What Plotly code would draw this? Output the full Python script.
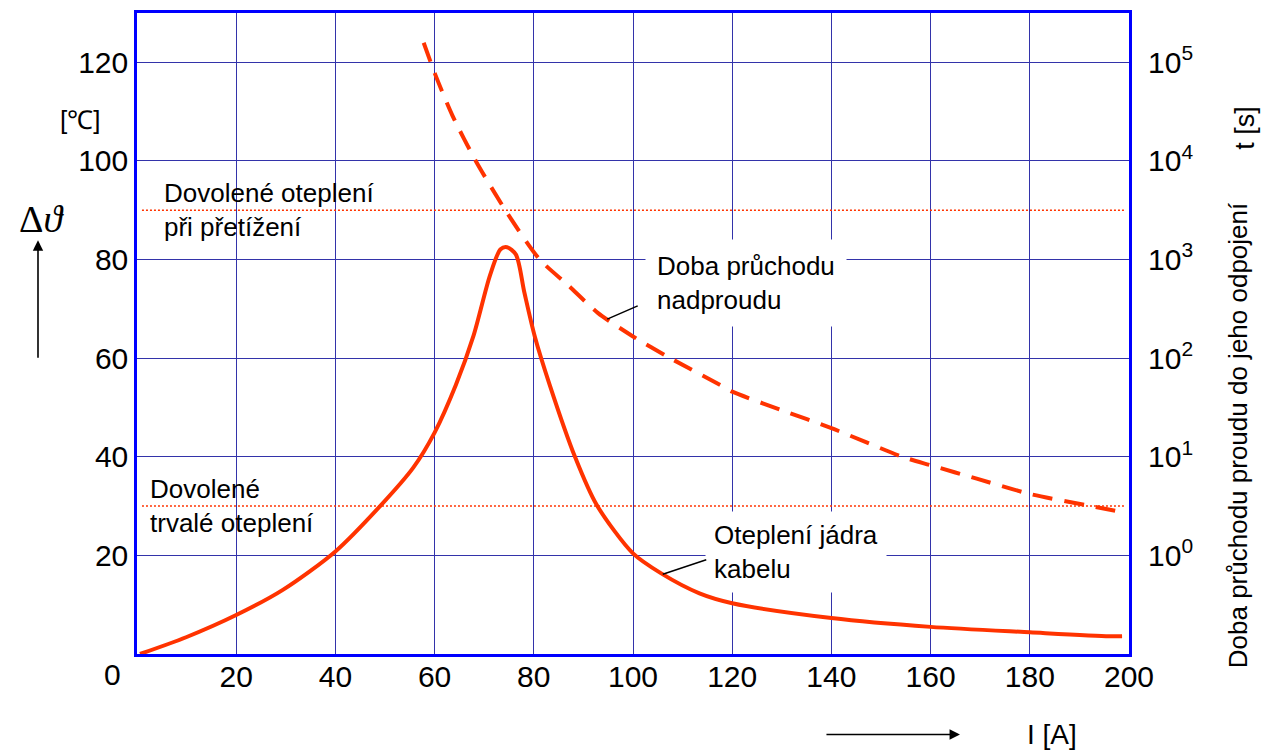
import numpy as np
import plotly.graph_objects as go

# ---- data ----
current_core = [0.6, 9.9, 20, 29.4, 40, 49.2, 55.7, 60, 64.3, 67.8, 71.2, 73.3, 74.6,
                76.4, 78.1, 80.2, 83.2, 88.3, 92.7, 100, 105.6, 113.4, 120, 140, 160,
                180, 196, 198.6]
temp_core = [0, 3.4, 7.9, 13.0, 20.8, 30.2, 37.8, 44.9, 54.6, 64.4, 76.9, 82.1, 82.5,
             81, 73.3, 64.4, 54.6, 40, 30.2, 20.4, 16.4, 12.3, 10.3, 7.3, 5.5,
             4.4, 3.6, 3.6]

current_trip = [57.8, 60.1, 63.6, 68.3, 74.4, 81.2, 86.9, 92.9, 100, 107.2, 117.5, 120,
                129.8, 140, 154.3, 160, 169.3, 180, 192.3, 198.5]
time_trip = [158000, 75900, 28800, 10000, 3090, 1000, 550, 288, 166, 102, 53.7, 45.7,
             29.9, 19.5, 10.0, 8.2, 6.0, 4.2, 3.16, 2.75]

limit_levels = [90, 30]
limit_span = [1, 199]

x_ticks = [20, 40, 60, 80, 100, 120, 140, 160, 180, 200]
y_ticks = [20, 40, 60, 80, 100, 120]
t_ticks = [1, 10, 100, 1000, 10000, 100000]
t_ticklabels = ["10<sup>0</sup>", "10<sup>1</sup>", "10<sup>2</sup>",
                "10<sup>3</sup>", "10<sup>4</sup>", "10<sup>5</sup>"]

RED = "#FF3300"
GRID = "#3333AA"
FRAME = "#0000FF"
FONT = "Arial, Liberation Sans, sans-serif"

fig = go.Figure()

for lv in limit_levels:
    fig.add_trace(go.Scatter(x=limit_span, y=[lv, lv], mode="lines",
                             line=dict(color=RED, width=1.5, dash="2px,2px"),
                             hoverinfo="skip"))

fig.add_trace(go.Scatter(x=current_core, y=temp_core, mode="lines",
                         line=dict(color=RED, width=4, shape="spline", smoothing=0.8)))

fig.add_trace(go.Scatter(x=current_trip, y=time_trip, mode="lines", yaxis="y2",
                         line=dict(color=RED, width=4, dash="20px,12px",
                                   shape="spline", smoothing=0.7)))

fig.update_layout(
    width=1265, height=752,
    margin=dict(l=137, r=136, t=10, b=98),
    paper_bgcolor="white", plot_bgcolor="white",
    showlegend=False,
    font=dict(family=FONT, color="black"),
    xaxis=dict(range=[0, 200], tickvals=x_ticks, showgrid=True, gridcolor=GRID,
               gridwidth=1, zeroline=False, showline=True, mirror=True,
               linecolor=FRAME, linewidth=2.5, ticks="", tickfont=dict(size=30)),
    yaxis=dict(range=[0, 130], tickvals=y_ticks, showgrid=True, gridcolor=GRID,
               gridwidth=1, zeroline=False, showline=True, mirror=True,
               linecolor=FRAME, linewidth=2.5, ticks="", tickfont=dict(size=30)),
    yaxis2=dict(type="log", range=[-1, 5.5], overlaying="y", side="right",
                tickvals=t_ticks, ticktext=t_ticklabels, showgrid=False,
                zeroline=False, showline=False, ticks="", tickfont=dict(size=30),
                ticklabelstandoff=18),
)
try:
    fig.update_xaxes(ticklabelstandoff=-6)
except ValueError:
    pass


def interp_core(i):
    return float(np.interp(i, current_core, temp_core))


def interp_trip_log(i):
    return float(np.interp(i, current_trip, np.log10(time_trip)))


def ptxt(x, y, text, size, **kw):
    d = dict(x=x, y=y, xref="paper", yref="paper", text=text, showarrow=False,
             xanchor="center", yanchor="middle", font=dict(size=size))
    d.update(kw)
    return d


ann = []
# in-plot labels
ann.append(dict(x=5, y=limit_levels[0], xref="x", yref="y", xanchor="left", yanchor="middle",
                text="Dovolené oteplení<br>při přetížení", showarrow=False, align="left",
                font=dict(size=26)))
ann.append(dict(x=2.2, y=limit_levels[1], xref="x", yref="y", xanchor="left", yanchor="middle",
                text="Dovolené<br>trvalé oteplení", showarrow=False, align="left",
                font=dict(size=26)))
ann.append(dict(x=102.5, y=75.3, xref="x", yref="y", xanchor="left", yanchor="middle",
                text="Doba průchodu<br>nadproudu", showarrow=False, align="left",
                font=dict(size=26), bgcolor="white", borderpad=11))
ann.append(dict(x=114.5, y=20.6, xref="x", yref="y", xanchor="left", yanchor="middle",
                text="Oteplení jádra<br>kabelu", showarrow=False, align="left",
                font=dict(size=26), bgcolor="white", borderpad=8))
# leader lines
ann.append(dict(x=94.8, y=interp_trip_log(94.8), xref="x", yref="y2", text="",
                showarrow=True, arrowhead=0, arrowwidth=1.5, arrowcolor="black",
                ax=32, ay=-14, axref="pixel", ayref="pixel"))
ann.append(dict(x=106, y=interp_core(106), xref="x", yref="y", text="",
                showarrow=True, arrowhead=0, arrowwidth=1.5, arrowcolor="black",
                ax=45, ay=-15, axref="pixel", ayref="pixel"))
# axis labels
ann.append(ptxt(-0.0958, 0.678, "Δ<i>ϑ</i>", 38,
                font=dict(size=38, family="Liberation Serif, DejaVu Serif, serif")))
ann.append(ptxt(-0.0575, 0.833, "[℃]", 26))
ann.append(ptxt(-0.0252, -0.0326, "0", 30))
ann.append(ptxt(0.9224, -0.1257, "I [A]", 28))
ann.append(ptxt(1.1169, 0.8208, "t [s]", 27, textangle=-90))
ann.append(ptxt(1.1099, 0.3413, "Doba průchodu proudu do jeho odpojení", 26, textangle=-90))
# axis arrows
ann.append(dict(x=-0.0998, y=0.6455, xref="paper", yref="paper", text="",
                showarrow=True, arrowhead=2, arrowsize=1.3, arrowwidth=1.6, arrowcolor="black",
                ax=0, ay=119, axref="pixel", ayref="pixel"))
ann.append(dict(x=0.8296, y=-0.1257, xref="paper", yref="paper", text="",
                showarrow=True, arrowhead=2, arrowsize=1.3, arrowwidth=1.6, arrowcolor="black",
                ax=-135, ay=0, axref="pixel", ayref="pixel"))

fig.update_layout(annotations=ann)

fig.write_html("out.html")
